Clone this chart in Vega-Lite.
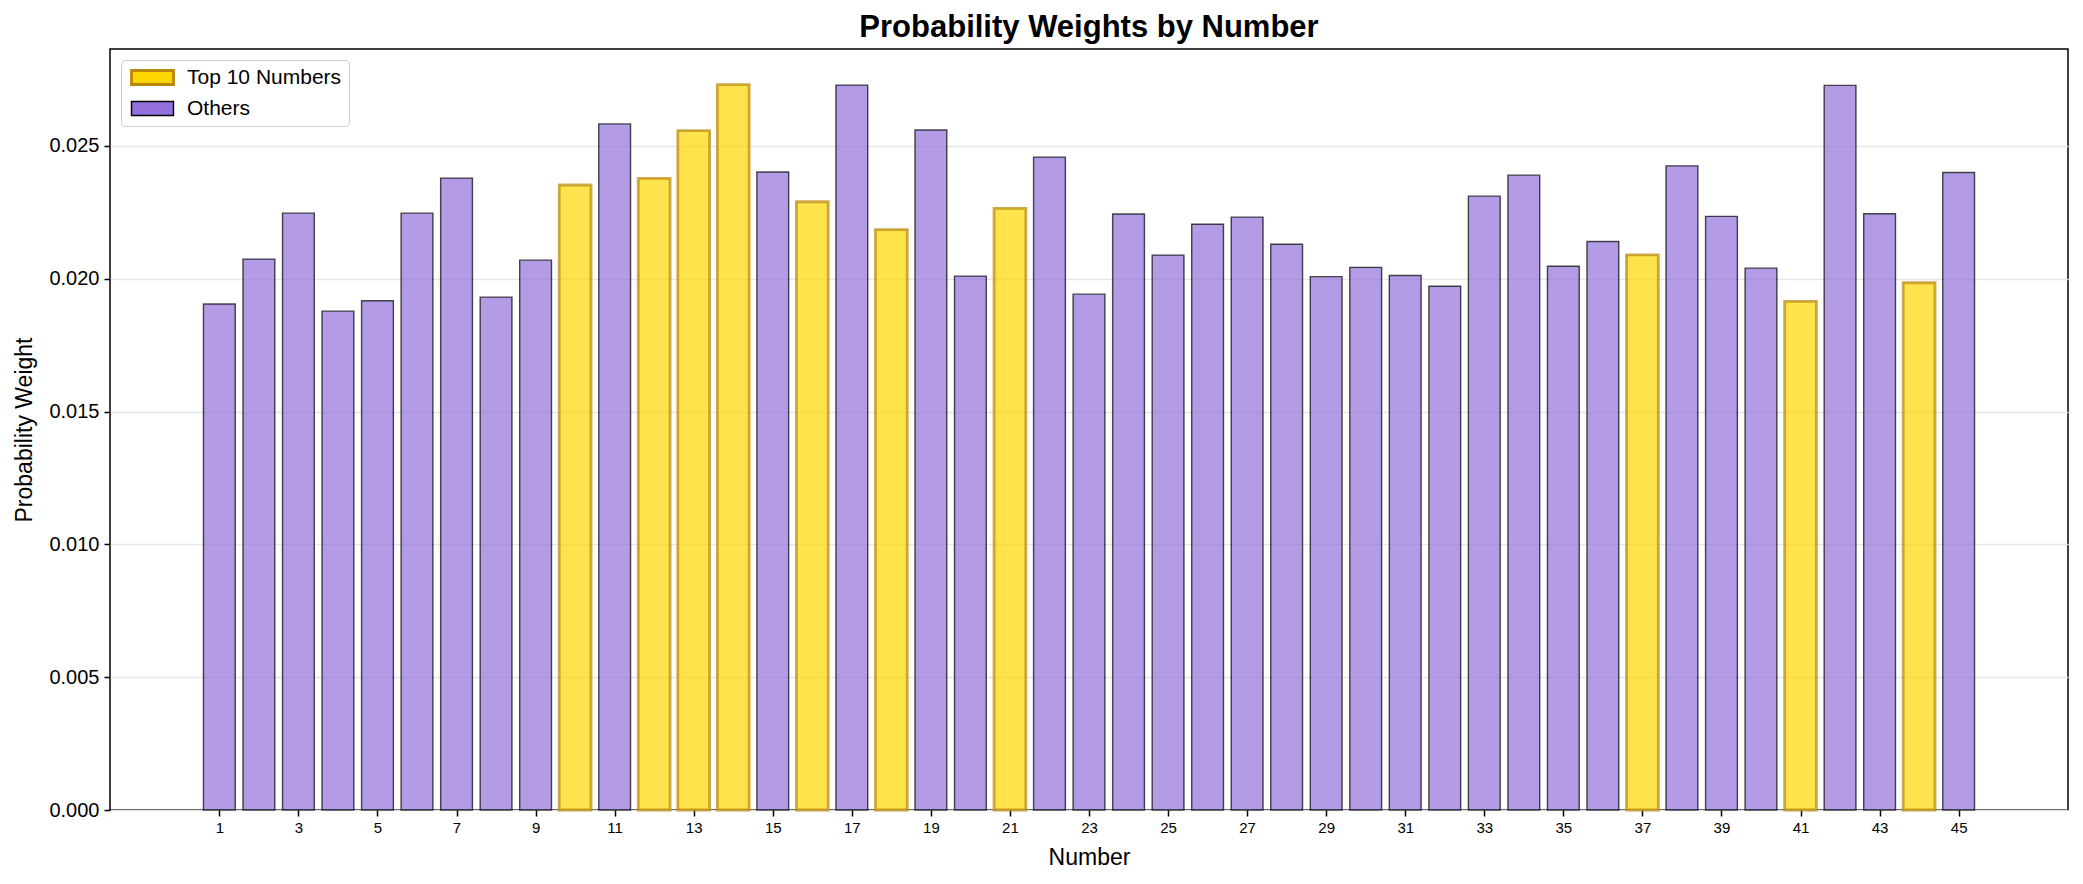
{
  "$schema": "https://vega.github.io/schema/vega-lite/v6.json",
  "width": 1958,
  "height": 761,
  "autosize": {"type": "none"},
  "padding": {"left": 110, "top": 49, "right": 15, "bottom": 74},
  "background": "white",
  "title": {
    "text": "Probability Weights by Number",
    "fontSize": 31,
    "fontWeight": "bold",
    "font": "Liberation Sans",
    "color": "#000000",
    "anchor": "middle",
    "offset": 5
  },
  "config": {
    "font": "Liberation Sans",
    "view": {"stroke": "#000000", "strokeWidth": 1.5},
    "axis": {
      "labelFont": "Liberation Sans",
      "titleFont": "Liberation Sans",
      "labelColor": "#000000",
      "titleColor": "#000000",
      "tickColor": "#000000",
      "tickWidth": 1.5,
      "domain": false,
      "titleFontWeight": "normal"
    }
  },
  "data": {
    "values": [
      {"number": 1, "weight": 0.01905, "group": "Others"},
      {"number": 2, "weight": 0.02074, "group": "Others"},
      {"number": 3, "weight": 0.02247, "group": "Others"},
      {"number": 4, "weight": 0.01878, "group": "Others"},
      {"number": 5, "weight": 0.01917, "group": "Others"},
      {"number": 6, "weight": 0.02247, "group": "Others"},
      {"number": 7, "weight": 0.02379, "group": "Others"},
      {"number": 8, "weight": 0.01931, "group": "Others"},
      {"number": 9, "weight": 0.02070, "group": "Others"},
      {"number": 10, "weight": 0.02353, "group": "Top 10 Numbers"},
      {"number": 11, "weight": 0.02583, "group": "Others"},
      {"number": 12, "weight": 0.02378, "group": "Top 10 Numbers"},
      {"number": 13, "weight": 0.02558, "group": "Top 10 Numbers"},
      {"number": 14, "weight": 0.02731, "group": "Top 10 Numbers"},
      {"number": 15, "weight": 0.02402, "group": "Others"},
      {"number": 16, "weight": 0.02290, "group": "Top 10 Numbers"},
      {"number": 17, "weight": 0.02729, "group": "Others"},
      {"number": 18, "weight": 0.02185, "group": "Top 10 Numbers"},
      {"number": 19, "weight": 0.02560, "group": "Others"},
      {"number": 20, "weight": 0.02010, "group": "Others"},
      {"number": 21, "weight": 0.02265, "group": "Top 10 Numbers"},
      {"number": 22, "weight": 0.02458, "group": "Others"},
      {"number": 23, "weight": 0.01942, "group": "Others"},
      {"number": 24, "weight": 0.02244, "group": "Others"},
      {"number": 25, "weight": 0.02089, "group": "Others"},
      {"number": 26, "weight": 0.02205, "group": "Others"},
      {"number": 27, "weight": 0.02232, "group": "Others"},
      {"number": 28, "weight": 0.02130, "group": "Others"},
      {"number": 29, "weight": 0.02008, "group": "Others"},
      {"number": 30, "weight": 0.02043, "group": "Others"},
      {"number": 31, "weight": 0.02012, "group": "Others"},
      {"number": 32, "weight": 0.01972, "group": "Others"},
      {"number": 33, "weight": 0.02311, "group": "Others"},
      {"number": 34, "weight": 0.02390, "group": "Others"},
      {"number": 35, "weight": 0.02047, "group": "Others"},
      {"number": 36, "weight": 0.02140, "group": "Others"},
      {"number": 37, "weight": 0.02090, "group": "Top 10 Numbers"},
      {"number": 38, "weight": 0.02425, "group": "Others"},
      {"number": 39, "weight": 0.02235, "group": "Others"},
      {"number": 40, "weight": 0.02040, "group": "Others"},
      {"number": 41, "weight": 0.01915, "group": "Top 10 Numbers"},
      {"number": 42, "weight": 0.02728, "group": "Others"},
      {"number": 43, "weight": 0.02245, "group": "Others"},
      {"number": 44, "weight": 0.01985, "group": "Top 10 Numbers"},
      {"number": 45, "weight": 0.02400, "group": "Others"}
    ]
  },
  "mark": {"type": "bar", "fillOpacity": 0.7, "strokeOpacity": 0.7, "width": 31.8},
  "encoding": {
    "x": {
      "field": "number",
      "type": "quantitative",
      "scale": {"domain": [-1.64, 47.64], "nice": false, "zero": false},
      "axis": {
        "values": [1, 3, 5, 7, 9, 11, 13, 15, 17, 19, 21, 23, 25, 27, 29, 31, 33, 35, 37, 39, 41, 43, 45],
        "format": "d",
        "labelAngle": 0,
        "title": "Number",
        "grid": false,
        "labelFontSize": 15,
        "labelFlush": false,
        "labelOverlap": false,
        "tickSize": 6,
        "labelPadding": 4,
        "titleFontSize": 23,
        "titlePadding": 11
      }
    },
    "y": {
      "field": "weight",
      "type": "quantitative",
      "scale": {"domain": [0, 0.02865], "nice": false},
      "axis": {
        "title": "Probability Weight",
        "grid": true,
        "gridColor": "#e6e6e6",
        "gridWidth": 1.4,
        "values": [0, 0.005, 0.01, 0.015, 0.02, 0.025],
        "format": ".3f",
        "labelFontSize": 20,
        "labelFlush": false,
        "tickSize": 6,
        "labelPadding": 5,
        "titleFontSize": 23,
        "titlePadding": 12
      }
    },
    "fill": {
      "field": "group",
      "type": "nominal",
      "scale": {"domain": ["Top 10 Numbers", "Others"], "range": ["#FFD700", "#9370DB"]},
      "legend": {
        "orient": "none",
        "legendX": 11,
        "legendY": 11,
        "title": null,
        "padding": 7,
        "fillColor": "#ffffff",
        "strokeColor": "#cccccc",
        "cornerRadius": 4,
        "symbolType": "M-1,-1H5V1H-1Z",
        "symbolSize": 196,
        "symbolOpacity": 1,
        "labelFontSize": 21,
        "labelFont": "Liberation Sans",
        "labelColor": "#000000",
        "labelOffset": 38,
        "rowPadding": 6
      }
    },
    "stroke": {
      "field": "group",
      "type": "nominal",
      "scale": {"domain": ["Top 10 Numbers", "Others"], "range": ["#B8860B", "#000000"]}
    },
    "strokeWidth": {
      "field": "group",
      "type": "nominal",
      "scale": {"domain": ["Top 10 Numbers", "Others"], "range": [2.8, 1.4]}
    }
  }
}
